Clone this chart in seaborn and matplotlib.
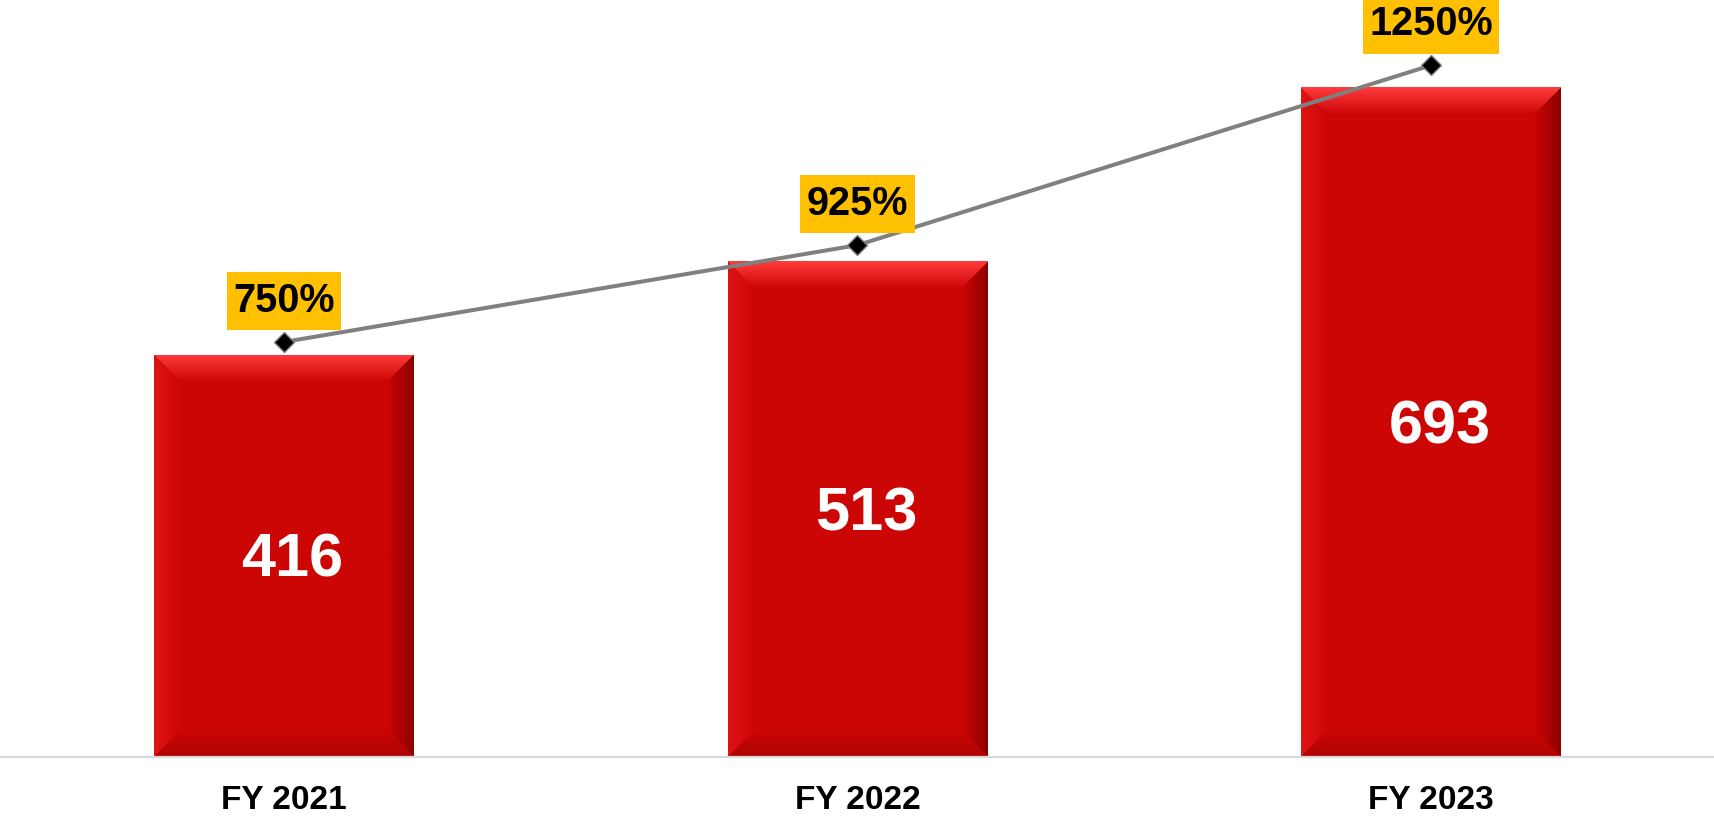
import numpy as np
import pandas as pd
import matplotlib
matplotlib.use("Agg")
import matplotlib.pyplot as plt
import seaborn as sns
from matplotlib.colors import to_rgb
from matplotlib.path import Path

# ---- data ----
categories = ["FY 2021", "FY 2022", "FY 2023"]
bar_values = [416, 513, 693]
payout_pct = [750, 925, 1250]
pct_labels = ["750%", "925%", "1250%"]

sns.set_theme(style="white")
plt.rcParams["font.family"] = ["Liberation Sans", "DejaVu Sans"]

W, H, DPI = 1715, 817, 100
fig = plt.figure(figsize=(W / DPI, H / DPI), dpi=DPI)
ax = fig.add_axes([0, 60 / H, 1, 757 / H])

df = pd.DataFrame({"cat": categories, "val": bar_values})
sns.barplot(data=df, x="cat", y="val", color="#CC0605", saturation=1,
            width=0.453, ax=ax, zorder=2)
ax.set_xlim(-0.495, 2.495)
ax.set_ylim(0, 783)

# bevel shading over each bar
base = np.array(to_rgb("#CC0605"))
top_c = np.array(to_rgb("#FF3C3C"))
left_c = np.array(to_rgb("#DE1414"))
right_c = np.array(to_rgb("#8E0000"))
bot_c = np.array(to_rgb("#B00404"))
fig.canvas.draw()
for p in list(ax.patches):
    bb = p.get_bbox()
    (px0, py0), (px1, py1) = ax.transData.transform([[bb.x0, bb.y0], [bb.x1, bb.y1]])
    w = max(int(round(px1 - px0)), 2)
    h = max(int(round(py1 - py0)), 2)
    b = 27.0
    ii, jj = np.mgrid[0:h, 0:w]
    d = np.stack([ii, h - 1 - ii, jj, w - 1 - jj], axis=0).astype(float)
    idx = np.argmin(d, axis=0)
    dmin = np.min(d, axis=0)
    t = np.clip(dmin / b, 0, 1)[..., None]
    edge = np.zeros((h, w, 3))
    for k, c in enumerate([top_c, bot_c, left_c, right_c]):
        edge[idx == k] = c
    img = edge * (1 - t) + base * t
    im = ax.imshow(img, extent=(bb.x0, bb.x1, bb.y0, bb.y1), aspect="auto",
                   origin="upper", zorder=2.5, interpolation="bilinear")
    im.set_clip_path(p)

ax.set_xlim(-0.495, 2.495)
ax.set_ylim(0, 783)

# bar value labels
for p, v in zip(ax.patches, bar_values):
    bb = p.get_bbox()
    ax.annotate(f"{v}", ((bb.x0 + bb.x1) / 2, bb.y1 / 2), xytext=(6, -4),
                textcoords="offset points", ha="center", va="center",
                color="white", fontsize=44, fontweight="bold", zorder=5)

# axes styling
for s in ["top", "left", "right"]:
    ax.spines[s].set_visible(False)
ax.spines["bottom"].set_color("#D9D9D9")
ax.spines["bottom"].set_linewidth(1.6)
ax.set_yticks([])
ax.set_xlabel("")
ax.set_ylabel("")
ax.tick_params(axis="x", length=0, pad=20.5)
for lab in ax.get_xticklabels():
    lab.set_fontsize(24)
    lab.set_fontweight("bold")
    lab.set_color("black")

# secondary axis line
ax2 = ax.twinx()
sns.lineplot(x=categories, y=payout_pct, ax=ax2, sort=False, color="#808080",
             linewidth=2.9, marker="D", markersize=10, markerfacecolor="black",
             markeredgecolor="#808080", markeredgewidth=1.0, zorder=6)
ax2.set_ylim(0, 1368)
ax2.set_xlim(-0.495, 2.495)
ax2.set_yticks([])
ax2.set_ylabel("")
for s in ax2.spines.values():
    s.set_visible(False)


def label_box(x0, y0, width, height, mutation_size):
    padx = 0.16 * mutation_size
    pady = 0.26 * mutation_size
    x0, y0 = x0 - padx, y0 - pady
    x1, y1 = x0 + width + 2 * padx, y0 + height + 2 * pady
    return Path([(x0, y0), (x1, y0), (x1, y1), (x0, y1), (x0, y0)],
                closed=True)


for i, (v, lab) in enumerate(zip(payout_pct, pct_labels)):
    ax2.annotate(lab, (i, v), xytext=(0, 29.5), textcoords="offset points",
                 ha="center", va="center", fontsize=28.5, fontweight="bold",
                 color="black", zorder=7, annotation_clip=False,
                 bbox=dict(boxstyle=label_box, fc="#FFC000", ec="none"))

fig.savefig("out.png", dpi=DPI, facecolor="white")
